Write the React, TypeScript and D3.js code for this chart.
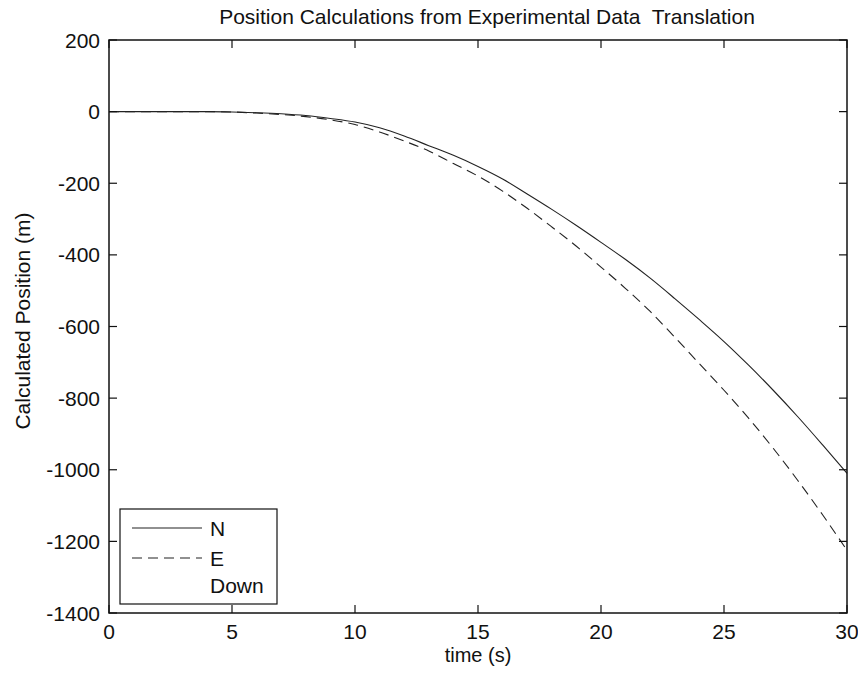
import React from "react";
import * as d3 from "d3";

const timeS = [0, 1, 2, 3, 4, 5, 6, 7, 8, 9, 10, 11, 12, 13, 14, 15, 16, 17, 18, 19, 20, 21, 22, 23, 24, 25, 26, 27, 28, 29, 30];
const northM = [0, 0, 0, 0, 0, -1, -3, -6, -11, -19, -29, -45, -68, -95, -122, -153, -188, -230, -273, -318, -365, -413, -465, -522, -581, -642, -708, -778, -852, -930, -1010];
const eastM = [0, 0, 0, 0, 0, -1, -4, -8, -14, -23, -36, -57, -82, -110, -145, -180, -222, -270, -322, -376, -434, -494, -558, -630, -704, -778, -856, -940, -1030, -1125, -1225];
const xTicks = [0, 5, 10, 15, 20, 25, 30];
const yTicks = [200, 0, -200, -400, -600, -800, -1000, -1200, -1400];
const legendLabels = ["N", "E", "Down"];

const W = 858;
const H = 676;
const L = 109, R = 847, T = 40, B = 613;
const FONT = "'Liberation Sans', Arial, sans-serif";

export default function App() {
  const x = d3.scaleLinear().domain([0, 30]).range([L, R]);
  const y = d3.scaleLinear().domain([-1400, 200]).range([B, T]);
  const line = d3
    .line<number>()
    .x((_, i) => x(timeS[i]))
    .y((d) => y(d))
    .curve(d3.curveMonotoneX);
  const tickLen = 8;
  const ink = "#111";

  return (
    <svg width={W} height={H} style={{ position: "absolute", left: 0, top: 0, background: "#fff" }} fontFamily={FONT}>
      <rect x={0} y={0} width={W} height={H} fill="#fff" />
      <text x={487} y={24} fontSize={21} textAnchor="middle" fill={ink} style={{ whiteSpace: "pre" }}>
        {"Position Calculations from Experimental Data\u00a0 Translation"}
      </text>

      {/* series */}
      <path d={line(northM) || ""} fill="none" stroke="#222" strokeWidth={1.1} />
      <path d={line(eastM) || ""} fill="none" stroke="#222" strokeWidth={1.1} strokeDasharray="10,6" />

      {/* axes box */}
      <rect x={L} y={T} width={R - L} height={B - T} fill="none" stroke={ink} strokeWidth={1.5} />

      {xTicks.map((t) => (
        <g key={"x" + t}>
          <line x1={x(t)} x2={x(t)} y1={B} y2={B - tickLen} stroke={ink} strokeWidth={1.2} />
          <line x1={x(t)} x2={x(t)} y1={T} y2={T + tickLen} stroke={ink} strokeWidth={1.2} />
          <text x={x(t)} y={639} fontSize={21} textAnchor="middle" fill={ink}>{t}</text>
        </g>
      ))}
      {yTicks.map((v) => (
        <g key={"y" + v}>
          <line x1={L} x2={L + tickLen} y1={y(v)} y2={y(v)} stroke={ink} strokeWidth={1.2} />
          <line x1={R} x2={R - tickLen} y1={y(v)} y2={y(v)} stroke={ink} strokeWidth={1.2} />
          <text x={100} y={y(v)} dy="0.36em" fontSize={21} textAnchor="end" fill={ink}>{v}</text>
        </g>
      ))}

      <text x={478} y={662} fontSize={20} textAnchor="middle" fill={ink}>time (s)</text>
      <text transform={`translate(30,321) rotate(-90)`} fontSize={21} textAnchor="middle" fill={ink}>
        Calculated Position (m)
      </text>

      {/* legend */}
      <rect x={120} y={509} width={157} height={95} fill="#fff" stroke={ink} strokeWidth={1.2} />
      <line x1={132} x2={202} y1={528} y2={528} stroke="#222" strokeWidth={1.1} />
      <line x1={132} x2={202} y1={558} y2={558} stroke="#222" strokeWidth={1.1} strokeDasharray="10,6" />
      {legendLabels.map((lab, i) => (
        <text key={lab} x={210} y={[528, 558, 585][i]} dy="0.36em" fontSize={21} fill={ink}>{lab}</text>
      ))}
    </svg>
  );
}
